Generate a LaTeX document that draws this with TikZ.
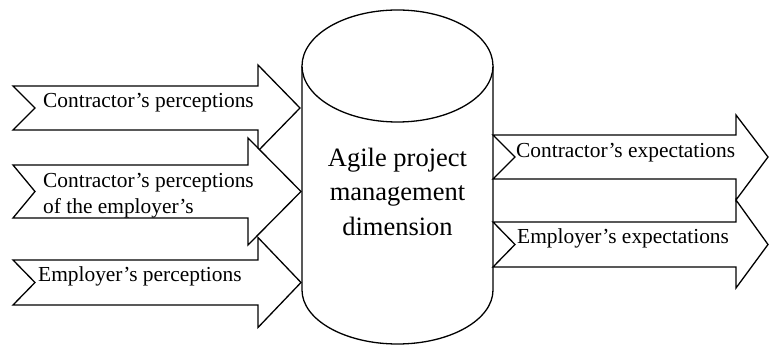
\documentclass[tikz,border=0pt]{standalone}
\usepackage{fontspec}
\setmainfont{Liberation Serif}
\begin{document}
\begin{tikzpicture}[x=1pt,y=1pt,
  shapeline/.style={draw=black,fill=white,line width=1.3pt,line join=miter},
  lbl/.style={inner sep=0pt,font=\rmfamily\fontsize{21.4}{26.5}\selectfont},
  biglbl/.style={inner sep=0pt,align=center,font=\rmfamily\fontsize{26.5}{34.5}\selectfont}]
\useasboundingbox (0,0) rectangle (769,345);
% left arrows
\draw[shapeline] (13,259) -- (258,259) -- (258,280) -- (300,237) -- (258,194) -- (258,215) -- (13,215) -- (35,237) -- cycle;
\draw[shapeline] (13,180) -- (248,180) -- (248,207) -- (301,153.5) -- (248,100) -- (248,127) -- (13,127) -- (35,153.5) -- cycle;
\draw[shapeline] (13,85) -- (258,85) -- (258,107.5) -- (301,62.5) -- (258,17.5) -- (258,40) -- (13,40) -- (35,62.5) -- cycle;
% cylinder
\draw[shapeline] (302,279) -- (302,55) arc[start angle=180,end angle=360,x radius=95.5,y radius=54] -- (493,279);
\draw[shapeline] (397.5,279) ellipse[x radius=95.5,y radius=56];
% right arrows
\draw[shapeline] (493,210) -- (736,210) -- (736,230) -- (768,188) -- (736,145) -- (736,166) -- (493,166) -- (515,188) -- cycle;
\draw[shapeline] (493,123) -- (736,123) -- (736,145) -- (768,100.5) -- (736,57) -- (736,78) -- (493,78) -- (515,100.5) -- cycle;
% labels
\node[lbl,anchor=base west] (cp) at (43,237) {Contractor’s perceptions};
\node[lbl,anchor=west,align=left] (cpe) at (43,149.4) {Contractor’s perceptions\\of the employer’s};
\node[lbl,anchor=base west] (ep) at (38,63) {Employer’s perceptions};
\node[biglbl] (apm) at (397.5,153.5) {Agile project\\management\\dimension};
\node[lbl,anchor=base west] (ce) at (516,187) {Contractor’s expectations};
\node[lbl,anchor=base west] (ee) at (517,101) {Employer’s expectations};
\end{tikzpicture}
\end{document}
